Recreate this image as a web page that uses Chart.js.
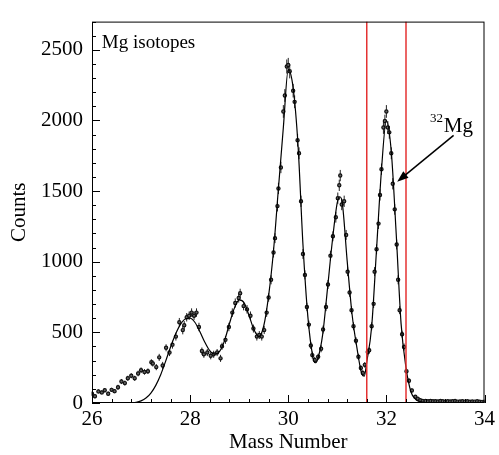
<!DOCTYPE html>
<html>
<head>
<meta charset="utf-8">
<script src="https://cdn.jsdelivr.net/npm/chart.js@4/dist/chart.umd.min.js"></script>
<style>
  html, body { margin: 0; padding: 0; background: #fff; }
  #wrap { width: 499px; height: 455px; }
</style>
</head>
<body>
<div id="wrap"><canvas id="spectrum"></canvas></div>
<script>
// measured points: [mass number, counts, error]
const measured = [
  [26.00, 66, 15], [26.06, 48, 15], [26.13, 82, 15], [26.20, 75, 15], [26.26, 90, 15],
  [26.33, 66, 15], [26.40, 93, 15], [26.46, 84, 15], [26.53, 111, 18], [26.60, 152, 18],
  [26.67, 141, 18], [26.73, 175, 18], [26.80, 193, 18], [26.87, 175, 18], [26.94, 209, 20],
  [27.00, 232, 20], [27.07, 220, 20], [27.14, 225, 20], [27.21, 288, 22], [27.24, 280, 22],
  [27.31, 254, 22], [27.37, 323, 25], [27.44, 266, 25], [27.51, 391, 25], [27.58, 357, 25],
  [27.64, 413, 28], [27.71, 470, 28], [27.78, 572, 30], [27.85, 516, 30], [27.88, 550, 30],
  [27.93, 607, 30], [27.98, 618, 30], [28.03, 640, 30], [28.08, 618, 30], [28.13, 640, 30],
  [28.18, 538, 30], [28.24, 368, 25], [28.28, 345, 25], [28.35, 357, 25], [28.42, 334, 25],
  [28.48, 345, 25], [28.55, 357, 25], [28.62, 316, 25], [28.65, 402, 25], [28.72, 447, 28],
  [28.79, 538, 30], [28.86, 640, 30], [28.92, 708, 32], [28.99, 743, 32], [29.02, 777, 32],
  [29.09, 686, 30], [29.16, 663, 30], [29.23, 618, 30], [29.29, 527, 28], [29.36, 470, 28],
  [29.41, 481, 28], [29.46, 470, 28], [29.51, 516, 28], [29.56, 640, 30], [29.60, 747, 30],
  [29.65, 872, 32], [29.70, 1065, 35], [29.73, 1167, 35], [29.78, 1394, 38], [29.80, 1519, 40],
  [29.85, 1667, 40], [29.90, 2064, 45], [29.93, 2177, 45], [29.97, 2382, 50], [30.00, 2393, 50],
  [30.03, 2348, 50], [30.10, 2211, 48], [30.13, 2132, 45], [30.19, 1860, 45], [30.22, 1768, 42],
  [30.26, 1428, 40], [30.30, 1055, 35], [30.34, 907, 32], [30.38, 680, 30], [30.42, 555, 28],
  [30.46, 407, 25], [30.49, 339, 25], [30.54, 305, 22], [30.61, 327, 22], [30.67, 384, 25],
  [30.71, 520, 28], [30.77, 680, 30], [30.81, 839, 32], [30.86, 1043, 35], [30.91, 1180, 35],
  [30.97, 1315, 38], [31.01, 1450, 40], [31.04, 1541, 40], [31.06, 1610, 40], [31.09, 1405, 40],
  [31.14, 1428, 40], [31.18, 1190, 35], [31.21, 930, 32], [31.25, 782, 30], [31.29, 657, 28],
  [31.33, 543, 28], [31.38, 441, 25], [31.43, 327, 22], [31.48, 248, 20], [31.52, 213, 20],
  [31.56, 270, 20], [31.62, 361, 22], [31.65, 373, 22], [31.70, 543, 28], [31.74, 702, 30],
  [31.76, 930, 32], [31.80, 1088, 35], [31.84, 1270, 38], [31.87, 1473, 40], [31.90, 1655, 40],
  [31.94, 1950, 45], [31.97, 1996, 45], [32.00, 2064, 45], [32.03, 1950, 45], [32.06, 1916, 45],
  [32.10, 1768, 42], [32.13, 1552, 40], [32.17, 1371, 38], [32.21, 1122, 35], [32.24, 872, 32],
  [32.27, 657, 28], [32.32, 487, 25], [32.36, 396, 25], [32.41, 225, 20], [32.46, 157, 18],
  [32.52, 89, 15], [32.59, 44, 12], [32.64, 30, 10], [32.69, 20, 10], [32.74, 15, 8],
  [32.80, 14, 6], [32.85, 12, 6], [32.90, 15, 6], [32.95, 12, 6], [33.00, 13, 6],
  [33.05, 11, 6], [33.10, 14, 6], [33.15, 12, 6], [33.20, 10, 6], [33.25, 13, 6],
  [33.30, 11, 6], [33.35, 12, 6], [33.40, 14, 6], [33.45, 10, 6], [33.50, 11, 6],
  [33.55, 13, 6], [33.60, 10, 6], [33.65, 12, 6], [33.70, 9, 6], [33.75, 11, 6],
  [33.80, 10, 6], [33.85, 12, 6], [33.90, 9, 6], [33.95, 8, 6], [34.00, 10, 6]
]

// fitted curve
const fitMass = [26.0, 26.5, 26.8, 26.9, 27.0, 27.1, 27.2, 27.3, 27.4, 27.5, 27.6, 27.7, 27.8, 27.9,
  28.0, 28.1, 28.2, 28.3, 28.4, 28.5, 28.6, 28.7, 28.8, 28.9, 29.0, 29.1, 29.2, 29.3, 29.4, 29.5,
  29.6, 29.7, 29.8, 29.9, 30.0, 30.1, 30.2, 30.3, 30.4, 30.5, 30.55, 30.6, 30.7, 30.8, 30.9, 31.0,
  31.05, 31.1, 31.2, 31.3, 31.4, 31.5, 31.55, 31.6, 31.7, 31.8, 31.9, 32.0, 32.1, 32.2, 32.3, 32.4,
  32.5, 32.6, 32.7, 32.8, 33.0, 34.0]
const fitCounts = [0, 0, 2, 5, 15, 35, 70, 125, 200, 295, 395, 485, 555, 595,
  600, 570, 505, 430, 370, 345, 365, 440, 560, 670, 730, 710, 620, 520, 470, 545,
  760, 1080, 1520, 1950, 2360, 2230, 1820, 1120, 610, 330, 285, 310, 480, 810, 1150, 1420,
  1460, 1420, 1010, 630, 390, 205, 190, 290, 540, 1090, 1650, 2000, 1780, 1200, 560, 250,
  80, 25, 8, 3, 1, 0]

const cutMass = [31.6, 32.4]
const yTickValues = [0, 500, 1000, 1500, 2000, 2500]
const xTickValues = [26, 28, 30, 32, 34]
const yRange = [0, 2700]
const xRange = [26, 34]
const yMinorStep = 100
const xMinorStep = 0.4

const serif = 'Liberation Serif'

const overlay = {
  id: 'overlay',
  beforeDatasetsDraw(chart) {
    const { ctx, scales: { x, y } } = chart
    ctx.save()
    ctx.strokeStyle = '#222'
    ctx.lineWidth = 1
    measured.forEach(([m, c, e]) => {
      const px = x.getPixelForValue(m)
      ctx.beginPath()
      ctx.moveTo(px, y.getPixelForValue(c - e))
      ctx.lineTo(px, y.getPixelForValue(c + e))
      ctx.stroke()
    })
    ctx.restore()
  },
  afterDraw(chart) {
    const { ctx, chartArea: a, scales: { x, y } } = chart
    ctx.save()
    ctx.strokeStyle = '#000'
    ctx.lineWidth = 1
    ctx.strokeRect(a.left + 0.5, a.top + 0.5, a.right - a.left - 1, a.bottom - a.top - 1)

    // inward ticks, long at labelled values
    ctx.beginPath()
    const nY = Math.round((yRange[1] - yRange[0]) / yMinorStep)
    for (let i = 0; i <= nY; i++) {
      const v = yRange[0] + i * yMinorStep
      const py = Math.round(y.getPixelForValue(v)) + 0.5
      const len = yTickValues.includes(v) ? 8 : 4
      ctx.moveTo(a.left, py)
      ctx.lineTo(a.left + len, py)
    }
    const nX = Math.round((xRange[1] - xRange[0]) / xMinorStep)
    for (let i = 0; i <= nX; i++) {
      const px = Math.round(x.getPixelForValue(xRange[0] + i * xMinorStep)) + 0.5
      const len = i % 5 === 0 ? 8 : 4
      ctx.moveTo(px, a.bottom)
      ctx.lineTo(px, a.bottom - len)
    }
    ctx.stroke()

    // labels
    ctx.fillStyle = '#000'
    ctx.font = '19px ' + serif
    ctx.textBaseline = 'middle'
    ctx.fillText('Mg isotopes', x.getPixelForValue(26.2), y.getPixelForValue(2550))

    ctx.textBaseline = 'alphabetic'
    ctx.font = '13px ' + serif
    ctx.fillText('32', x.getPixelForValue(32.89), y.getPixelForValue(1990))
    ctx.font = '21px ' + serif
    ctx.fillText('Mg', x.getPixelForValue(33.17), y.getPixelForValue(1921))

    // arrow
    const tx = x.getPixelForValue(33.37), ty = y.getPixelForValue(1894)
    const hx = x.getPixelForValue(32.22), hy = y.getPixelForValue(1567)
    const ang = Math.atan2(hy - ty, hx - tx)
    ctx.lineWidth = 1.5
    ctx.beginPath()
    ctx.moveTo(tx, ty)
    ctx.lineTo(hx - 8 * Math.cos(ang), hy - 8 * Math.sin(ang))
    ctx.stroke()
    ctx.beginPath()
    ctx.moveTo(hx, hy)
    ctx.lineTo(hx - 12 * Math.cos(ang - 0.35), hy - 12 * Math.sin(ang - 0.35))
    ctx.lineTo(hx - 12 * Math.cos(ang + 0.35), hy - 12 * Math.sin(ang + 0.35))
    ctx.closePath()
    ctx.fill()
    ctx.restore()
  }
}

const canvas = document.querySelector('#spectrum')

new Chart(canvas, {
  type: 'scatter',
  data: {
    datasets: [
      ...cutMass.map(m => ({
        type: 'line',
        data: [{ x: m, y: yRange[0] }, { x: m, y: yRange[1] }],
        borderColor: 'rgb(228, 50, 50)',
        borderWidth: 1.5,
        pointRadius: 0
      })),
      {
        type: 'line',
        label: 'fit',
        data: fitMass.map((m, i) => ({ x: m, y: fitCounts[i] })),
        borderColor: '#000',
        borderWidth: 1.2,
        pointRadius: 0,
        cubicInterpolationMode: 'monotone'
      },
      {
        label: 'data',
        data: measured.map(([m, c]) => ({ x: m, y: c })),
        pointRadius: 1.6,
        pointBackgroundColor: '#666',
        pointBorderColor: '#111',
        pointBorderWidth: 1.2
      }
    ]
  },
  options: {
    responsive: true,
    maintainAspectRatio: false,
    animation: false,
    events: [],
    layout: { padding: { top: 7, right: 11, left: 0, bottom: 0 } },
    plugins: { legend: { display: false }, tooltip: { enabled: false } },
    scales: {
      x: {
        type: 'linear',
        min: xRange[0],
        max: xRange[1],
        grid: { display: false, drawTicks: false },
        border: { display: false },
        afterBuildTicks(scale) { scale.ticks = xTickValues.map(v => ({ value: v })) },
        ticks: { color: '#000', padding: 4, font: { family: serif, size: 21 }, callback: v => String(v) },
        title: { display: true, text: 'Mass Number', color: '#000', padding: { top: 0, bottom: 0 }, font: { family: serif, size: 21 } },
        afterFit(scale) { scale.height = 52 }
      },
      y: {
        min: yRange[0],
        max: yRange[1],
        grid: { display: false, drawTicks: false },
        border: { display: false },
        afterBuildTicks(scale) { scale.ticks = yTickValues.map(v => ({ value: v })) },
        ticks: { color: '#000', padding: 9, font: { family: serif, size: 21 }, callback: v => String(v) },
        title: { display: true, text: 'Counts', color: '#000', padding: { top: 7, bottom: 0 }, font: { family: serif, size: 21 } },
        afterFit(scale) { scale.width = 92 }
      }
    }
  },
  plugins: [overlay]
})
</script>
</body>
</html>
